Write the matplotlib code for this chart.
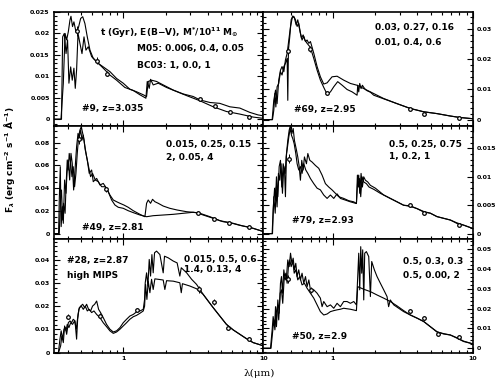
import matplotlib
matplotlib.use("Agg")
import matplotlib.pyplot as plt
from matplotlib.ticker import LogLocator, NullFormatter, FuncFormatter, MultipleLocator

plt.rcParams['font.family'] = 'DejaVu Sans'
plt.rcParams['font.weight'] = 'bold'

# ---- #9, z=3.035 ----
p9_lam_m05 = [0.32, 0.359, 0.373, 0.384, 0.394, 0.405, 0.416, 0.423, 0.434, 0.444, 0.459, 0.477, 0.496, 0.513,
              0.532, 0.553, 0.578, 0.610, 0.663, 0.719, 0.802, 0.895, 0.998, 1.113, 1.243, 1.387, 1.465, 1.505,
              1.590, 1.726, 1.925, 2.27, 2.67, 3.15, 3.52, 4.15, 4.88, 5.75, 6.78, 7.98, 9.15, 10.0]
p9_flux_m05 = [0, 0, 0.0084, 0.0200, 0.0185, 0.0204, 0.0231, 0.0240, 0.0216, 0.0227, 0.0204, 0.0212, 0.0235, 0.0239,
               0.0223, 0.0192, 0.0161, 0.0142, 0.0130, 0.0122, 0.0111, 0.0095, 0.0084, 0.0070, 0.0064, 0.0057, 0.0053,
               0.0088, 0.0091, 0.0088, 0.0080, 0.0068, 0.0059, 0.0053, 0.0045, 0.0039, 0.0037, 0.0029, 0.0026, 0.0016,
               0.0010, 0.0008]
p9_lam_bc03 = [0.32, 0.362, 0.369, 0.379, 0.390, 0.400, 0.409, 0.421, 0.432, 0.444, 0.454, 0.464, 0.475, 0.490,
               0.507, 0.524, 0.541, 0.562, 0.594, 0.645, 0.719, 0.802, 0.895, 1.026, 1.177, 1.313, 1.449, 1.481,
               1.530, 1.564, 1.633, 1.774, 2.034, 2.42, 2.83, 3.52, 4.38, 5.44, 6.78, 8.44, 10.0]
p9_flux_bc03 = [0, 0, 0.0192, 0.0200, 0.0153, 0.0185, 0.0084, 0.0122, 0.0091, 0.0119, 0.0072, 0.0115, 0.0200, 0.0177,
                0.0153, 0.0192, 0.0161, 0.0169, 0.0146, 0.0134, 0.0119, 0.0103, 0.0091, 0.0074, 0.0067, 0.0057,
                0.0049, 0.0088, 0.0072, 0.0093, 0.0080, 0.0084, 0.0074, 0.0064, 0.0055, 0.0043, 0.0029, 0.0018,
                0.0012, 0.0005, 0.0002]
p9_phot_lam = [0.47, 0.65, 0.77, 3.55, 4.49, 5.73, 7.87]
p9_phot_flux = [0.0205, 0.0136, 0.0106, 0.0046, 0.0031, 0.0018, 0.0006]
p9_phot_err = [0.0012, 0.0008, 0.0006, 0.0003, 0.0003, 0.0003, 0.0003]

# ---- #69, z=2.95 ----
p69_lam_m05 = [0.32, 0.369, 0.379, 0.390, 0.400, 0.411, 0.423, 0.434, 0.447, 0.459, 0.472, 0.485, 0.499, 0.513,
               0.527, 0.541, 0.556, 0.571, 0.587, 0.603, 0.620, 0.638, 0.655, 0.674, 0.692, 0.731, 0.772, 0.815,
               0.861, 0.910, 0.987, 1.072, 1.195, 1.334, 1.489, 1.661, 1.853, 2.306, 2.87, 3.57, 4.45, 5.53, 6.89,
               8.09, 10.0]
p69_flux_m05 = [0, 0, 0.0064, 0.0098, 0.0053, 0.0131, 0.0164, 0.0176, 0.0159, 0.0198, 0.0220, 0.0264, 0.0309, 0.0337,
                0.0342, 0.0331, 0.0309, 0.0320, 0.0287, 0.0264, 0.0276, 0.0259, 0.0264, 0.0253, 0.0259, 0.0220,
                0.0176, 0.0142, 0.0118, 0.0122, 0.0142, 0.0144, 0.0131, 0.0120, 0.0114, 0.0103, 0.0092, 0.0070,
                0.0053, 0.0037, 0.0026, 0.0020, 0.0012, 0.0007, 0.0003]
p69_lam_bc03 = [0.32, 0.371, 0.379, 0.386, 0.392, 0.400, 0.411, 0.423, 0.434, 0.447, 0.459, 0.472, 0.477, 0.482,
                0.493, 0.504, 0.518, 0.532, 0.547, 0.562, 0.580, 0.597, 0.614, 0.631, 0.655, 0.685, 0.700, 0.731,
                0.772, 0.815, 0.861, 0.910, 0.961, 1.015, 1.083, 1.166, 1.263, 1.373, 1.489, 1.505, 1.530, 1.555,
                1.590, 1.625, 1.661, 1.707, 1.754, 1.853, 1.957, 2.306, 2.87, 3.57, 4.45, 5.53, 6.89, 8.09, 10.0]
p69_flux_bc03 = [0, 0, 0.0031, 0.0087, 0.0042, 0.0109, 0.0120, 0.0159, 0.0148, 0.0176, 0.0187, 0.0203, 0.0064, 0.0231,
                 0.0276, 0.0331, 0.0344, 0.0337, 0.0314, 0.0331, 0.0298, 0.0270, 0.0281, 0.0264, 0.0253, 0.0242,
                 0.0231, 0.0203, 0.0164, 0.0131, 0.0107, 0.0084, 0.0092, 0.0109, 0.0126, 0.0114, 0.0100, 0.0092,
                 0.0081, 0.0114, 0.0092, 0.0120, 0.0103, 0.0114, 0.0107, 0.0100, 0.0096, 0.0091, 0.0081, 0.0069,
                 0.0053, 0.0037, 0.0026, 0.0020, 0.0012, 0.0007, 0.0003]
p69_phot_lam = [0.48, 0.69, 0.91, 3.57, 4.5, 7.95]
p69_phot_flux = [0.0229, 0.0233, 0.0087, 0.0034, 0.0020, 0.0007]
p69_phot_err = [0.0015, 0.0010, 0.0006, 0.0003, 0.0003, 0.0003]

# ---- #49, z=2.81 ----
p49_lam_m05 = [0.32, 0.349, 0.357, 0.362, 0.369, 0.375, 0.384, 0.390, 0.398, 0.405, 0.411, 0.421, 0.430, 0.439,
               0.449, 0.459, 0.469, 0.480, 0.490, 0.501, 0.513, 0.524, 0.535, 0.553, 0.571, 0.594, 0.610, 0.645,
               0.681, 0.719, 0.759, 0.802, 0.848, 0.895, 0.946, 1.009, 1.083, 1.177, 1.313, 1.425, 1.465, 1.505,
               1.564, 1.616, 1.679, 1.774, 1.925, 2.145, 2.42, 2.83, 3.33, 3.71, 4.38, 5.15, 6.08, 7.16, 8.44, 10.0]
p49_flux_m05 = [0, 0, 0.0325, 0.0384, 0.0120, 0.0267, 0.0179, 0.0413, 0.0648, 0.0560, 0.0706, 0.0618, 0.0501, 0.0589,
                0.0413, 0.0530, 0.0706, 0.0853, 0.0911, 0.0941, 0.0882, 0.0823, 0.0736, 0.0648, 0.0530, 0.0560,
                0.0457, 0.0486, 0.0428, 0.0442, 0.0399, 0.0340, 0.0296, 0.0281, 0.0267, 0.0252, 0.0232, 0.0202,
                0.0170, 0.0149, 0.0267, 0.0296, 0.0267, 0.0302, 0.0281, 0.0267, 0.0243, 0.0223, 0.0208, 0.0193,
                0.0185, 0.0164, 0.0135, 0.0105, 0.0091, 0.0067, 0.0047, 0.0018]
p49_lam_bc03 = [0.32, 0.345, 0.349, 0.355, 0.360, 0.367, 0.373, 0.381, 0.390, 0.396, 0.405, 0.414, 0.423, 0.432,
                0.442, 0.452, 0.464, 0.475, 0.485, 0.496, 0.507, 0.518, 0.532, 0.547, 0.565, 0.584, 0.603, 0.631,
                0.663, 0.700, 0.739, 0.780, 0.825, 0.871, 0.920, 0.998, 1.083, 1.177, 1.313, 1.465, 1.633, 1.925,
                2.27, 2.67, 3.15, 3.52, 4.15, 4.88, 5.75, 6.78, 7.98, 10.0]
p49_flux_bc03 = [0, 0, 0.0296, 0.0589, 0.0062, 0.0237, 0.0091, 0.0472, 0.0355, 0.0530, 0.0648, 0.0472, 0.0706, 0.0618,
                 0.0384, 0.0560, 0.0765, 0.0882, 0.0853, 0.0911, 0.0823, 0.0867, 0.0765, 0.0677, 0.0589, 0.0501,
                 0.0530, 0.0472, 0.0457, 0.0413, 0.0413, 0.0369, 0.0296, 0.0252, 0.0232, 0.0223, 0.0202, 0.0185,
                 0.0164, 0.0149, 0.0158, 0.0164, 0.0170, 0.0179, 0.0188, 0.0179, 0.0149, 0.0114, 0.0097, 0.0073,
                 0.0056, 0.0018]
p49_phot_lam = [0.48, 0.75, 3.4, 4.45, 5.7, 7.9]
p49_phot_flux = [0.083, 0.039, 0.0185, 0.0133, 0.0098, 0.0062]
p49_phot_err = [0.004, 0.002, 0.001, 0.001, 0.001, 0.001]

# ---- #79, z=2.93 ----
p79_lam_m05 = [0.32, 0.369, 0.375, 0.384, 0.390, 0.396, 0.405, 0.414, 0.423, 0.432, 0.442, 0.452, 0.459, 0.467,
               0.477, 0.488, 0.499, 0.510, 0.521, 0.532, 0.550, 0.562, 0.574, 0.587, 0.600, 0.614, 0.627, 0.648,
               0.663, 0.685, 0.711, 0.751, 0.793, 0.838, 0.885, 0.935, 0.987, 1.043, 1.101, 1.195, 1.298, 1.410,
               1.473, 1.505, 1.530, 1.555, 1.590, 1.625, 1.661, 1.707, 1.774, 1.853, 2.011, 2.306, 2.57, 2.87,
               3.20, 3.57, 3.99, 4.45, 4.96, 5.53, 6.17, 6.89, 7.68, 8.57, 10.0]
p79_flux_m05 = [0, 0, 0.0042, 0.0080, 0.0059, 0.0100, 0.0065, 0.0118, 0.0129, 0.0082, 0.0123, 0.0112, 0.0065, 0.0141,
                0.0164, 0.0182, 0.0191, 0.0176, 0.0185, 0.0164, 0.0147, 0.0135, 0.0120, 0.0094, 0.0129, 0.0112,
                0.0135, 0.0123, 0.0141, 0.0129, 0.0126, 0.0120, 0.0115, 0.0103, 0.0088, 0.0082, 0.0077, 0.0071,
                0.0065, 0.0062, 0.0058, 0.0056, 0.0053, 0.0094, 0.0103, 0.0071, 0.0106, 0.0082, 0.0100, 0.0094,
                0.0091, 0.0085, 0.0080, 0.0068, 0.0062, 0.0056, 0.0050, 0.0049, 0.0044, 0.0039, 0.0036, 0.0030,
                0.0027, 0.0024, 0.0018, 0.0015, 0.0009]
p79_lam_bc03 = [0.32, 0.371, 0.379, 0.388, 0.394, 0.400, 0.409, 0.418, 0.427, 0.437, 0.447, 0.457, 0.464, 0.475,
                0.485, 0.496, 0.507, 0.518, 0.530, 0.544, 0.556, 0.571, 0.587, 0.603, 0.620, 0.641, 0.663, 0.692,
                0.731, 0.772, 0.815, 0.861, 0.910, 0.961, 1.015, 1.072, 1.132, 1.230, 1.334, 1.473, 1.497, 1.521,
                1.547, 1.581, 1.616, 1.661, 1.735, 1.813, 1.957, 2.18, 2.57, 2.87, 3.20, 3.57, 3.99, 4.45, 4.96,
                5.53, 6.17, 6.89, 7.68, 8.57, 10.0]
p79_flux_bc03 = [0, 0, 0.0065, 0.0036, 0.0082, 0.0047, 0.0106, 0.0094, 0.0123, 0.0071, 0.0118, 0.0106, 0.0135, 0.0153,
                 0.0170, 0.0185, 0.0173, 0.0167, 0.0158, 0.0141, 0.0123, 0.0112, 0.0118, 0.0106, 0.0123, 0.0112,
                 0.0106, 0.0097, 0.0088, 0.0080, 0.0077, 0.0068, 0.0062, 0.0068, 0.0062, 0.0070, 0.0062, 0.0059,
                 0.0056, 0.0053, 0.0103, 0.0082, 0.0097, 0.0065, 0.0100, 0.0091, 0.0088, 0.0082, 0.0078, 0.0071,
                 0.0062, 0.0056, 0.0050, 0.0048, 0.0044, 0.0038, 0.0036, 0.0030, 0.0027, 0.0024, 0.0019, 0.0015,
                 0.0009]
p79_phot_lam = [0.49, 3.57, 4.5, 8.0]
p79_phot_flux = [0.0132, 0.0050, 0.0036, 0.0016]
p79_phot_err = [0.0008, 0.0003, 0.0003, 0.0003]

# ---- #28, z=2.87 ----
p28_lam_m05 = [0.32, 0.344, 0.353, 0.360, 0.369, 0.377, 0.386, 0.394, 0.405, 0.416, 0.427, 0.439, 0.452, 0.464,
               0.472, 0.482, 0.496, 0.513, 0.530, 0.547, 0.565, 0.584, 0.603, 0.624, 0.645, 0.666, 0.688, 0.719,
               0.759, 0.802, 0.848, 0.895, 0.946, 0.998, 1.054, 1.113, 1.177, 1.243, 1.313, 1.387, 1.418, 1.433,
               1.465, 1.497, 1.530, 1.564, 1.599, 1.633, 1.670, 1.726, 1.823, 1.925, 1.967, 2.09, 2.27, 2.42,
               2.53, 2.59, 2.83, 3.07, 3.33, 3.52, 3.71, 4.03, 4.38, 4.88, 5.44, 6.08, 6.78, 7.56, 8.44, 10.0]
p28_flux_m05 = [0, 0, 0.0058, 0.0094, 0.0058, 0.0101, 0.0108, 0.0079, 0.0129, 0.0137, 0.0129, 0.0144, 0.0137, 0.0058,
                0.0144, 0.0187, 0.0201, 0.0209, 0.0194, 0.0209, 0.0187, 0.0180, 0.0201, 0.0209, 0.0223, 0.0187,
                0.0173, 0.0151, 0.0122, 0.0101, 0.0089, 0.0094, 0.0108, 0.0129, 0.0144, 0.0158, 0.0165, 0.0176,
                0.0180, 0.0187, 0.0230, 0.0302, 0.0345, 0.0288, 0.0403, 0.0331, 0.0424, 0.0345, 0.0432, 0.0439,
                0.0424, 0.0345, 0.0417, 0.0410, 0.0396, 0.0388, 0.0331, 0.0367, 0.0345, 0.0317, 0.0295, 0.0273,
                0.0252, 0.0223, 0.0194, 0.0158, 0.0122, 0.0098, 0.0079, 0.0060, 0.0043, 0.0029]
p28_lam_bc03 = [0.32, 0.345, 0.357, 0.364, 0.373, 0.381, 0.390, 0.398, 0.409, 0.421, 0.434, 0.449, 0.462, 0.475,
                0.485, 0.501, 0.518, 0.535, 0.553, 0.571, 0.594, 0.617, 0.645, 0.681, 0.719, 0.759, 0.802, 0.848,
                0.895, 0.946, 0.998, 1.054, 1.113, 1.177, 1.243, 1.313, 1.387, 1.418, 1.441, 1.473, 1.505, 1.547,
                1.590, 1.633, 1.679, 1.774, 1.925, 1.978, 2.034, 2.27, 2.53, 2.59, 2.64, 2.98, 3.33, 3.71, 4.03,
                4.38, 4.88, 5.44, 6.08, 6.78, 7.56, 8.44, 10.0]
p28_flux_bc03 = [0, 0, 0.0029, 0.0072, 0.0043, 0.0115, 0.0094, 0.0122, 0.0108, 0.0129, 0.0122, 0.0137, 0.0101, 0.0165,
                 0.0194, 0.0201, 0.0187, 0.0201, 0.0180, 0.0187, 0.0173, 0.0180, 0.0165, 0.0151, 0.0129, 0.0112,
                 0.0094, 0.0083, 0.0089, 0.0101, 0.0115, 0.0129, 0.0144, 0.0155, 0.0161, 0.0170, 0.0180, 0.0201,
                 0.0295, 0.0230, 0.0309, 0.0259, 0.0317, 0.0273, 0.0319, 0.0317, 0.0314, 0.0273, 0.0311, 0.0309,
                 0.0302, 0.0259, 0.0298, 0.0288, 0.0276, 0.0252, 0.0223, 0.0194, 0.0158, 0.0122, 0.0098, 0.0079,
                 0.0060, 0.0043, 0.0029]
p28_phot_lam = [0.405, 0.68, 1.26, 3.45, 4.45, 5.6, 7.9]
p28_phot_flux = [0.0155, 0.0160, 0.0184, 0.0273, 0.0219, 0.0106, 0.0060]
p28_phot_err = [0.001, 0.001, 0.001, 0.0015, 0.0012, 0.0008, 0.0006]

# ---- #50, z=2.9 ----
p50_lam_m05 = [0.32, 0.359, 0.369, 0.375, 0.384, 0.390, 0.396, 0.405, 0.414, 0.423, 0.430, 0.437, 0.447, 0.457,
               0.467, 0.477, 0.488, 0.499, 0.510, 0.521, 0.532, 0.544, 0.556, 0.571, 0.587, 0.603, 0.620, 0.638,
               0.655, 0.674, 0.692, 0.731, 0.772, 0.815, 0.838, 0.861, 0.910, 0.961, 1.015, 1.072, 1.132, 1.195,
               1.263, 1.334, 1.410, 1.473, 1.505, 1.530, 1.555, 1.581, 1.607, 1.633, 1.661, 1.688, 1.735, 1.803,
               1.853, 1.894, 1.978, 2.067, 2.184, 2.306, 2.436, 2.50, 2.57, 2.72, 2.95, 3.20, 3.57, 3.99, 4.45,
               4.96, 5.53, 6.17, 6.89, 7.68, 8.57, 10.0]
p50_flux_m05 = [0, 0, 0.0093, 0.0160, 0.0109, 0.0210, 0.0109, 0.0244, 0.0177, 0.0328, 0.0362, 0.0278, 0.0396, 0.0345,
                0.0362, 0.0446, 0.0412, 0.0480, 0.0429, 0.0455, 0.0396, 0.0429, 0.0362, 0.0396, 0.0345, 0.0379,
                0.0328, 0.0362, 0.0311, 0.0345, 0.0295, 0.0295, 0.0278, 0.0253, 0.0210, 0.0236, 0.0210, 0.0219,
                0.0202, 0.0227, 0.0210, 0.0236, 0.0236, 0.0227, 0.0236, 0.0219, 0.0362, 0.0480, 0.0295, 0.0513,
                0.0379, 0.0497, 0.0244, 0.0480, 0.0488, 0.0463, 0.0261, 0.0438, 0.0396, 0.0362, 0.0328, 0.0295,
                0.0261, 0.0210, 0.0244, 0.0219, 0.0202, 0.0185, 0.0168, 0.0152, 0.0135, 0.0109, 0.0084, 0.0072,
                0.0067, 0.0051, 0.0034, 0.0022]
p50_lam_bc03 = [0.32, 0.362, 0.371, 0.379, 0.386, 0.394, 0.402, 0.411, 0.421, 0.430, 0.439, 0.449, 0.462, 0.472,
                0.482, 0.493, 0.504, 0.518, 0.530, 0.544, 0.562, 0.580, 0.603, 0.627, 0.655, 0.692, 0.731, 0.772,
                0.815, 0.861, 0.910, 0.961, 1.015, 1.072, 1.132, 1.195, 1.334, 1.473, 1.505, 1.661, 1.853, 2.067,
                2.306, 2.57, 2.87, 3.20, 3.57, 3.99, 4.45, 4.96, 5.53, 6.17, 6.89, 7.68, 8.57, 10.0]
p50_flux_bc03 = [0, 0, 0.0076, 0.0143, 0.0093, 0.0177, 0.0210, 0.0143, 0.0278, 0.0295, 0.0227, 0.0345, 0.0379, 0.0328,
                 0.0412, 0.0446, 0.0412, 0.0438, 0.0379, 0.0396, 0.0345, 0.0362, 0.0320, 0.0328, 0.0303, 0.0278,
                 0.0253, 0.0219, 0.0185, 0.0168, 0.0173, 0.0185, 0.0190, 0.0194, 0.0197, 0.0202, 0.0197, 0.0190,
                 0.0311, 0.0298, 0.0286, 0.0269, 0.0253, 0.0236, 0.0214, 0.0190, 0.0168, 0.0152, 0.0135, 0.0109,
                 0.0082, 0.0074, 0.0067, 0.0053, 0.0036, 0.0022]
p50_phot_lam = [0.48, 0.70, 3.57, 4.5, 5.6, 8.0]
p50_phot_flux = [0.0348, 0.0295, 0.0190, 0.0155, 0.0072, 0.0059]
p50_phot_err = [0.002, 0.0015, 0.001, 0.001, 0.0008, 0.0008]

# panel labels
p9_text = ["t (Gyr), E(B$-$V), M$^{*}$/10$^{11}$ M$_{\\odot}$", "M05: 0.006, 0.4, 0.05", "BC03: 1, 0.0, 1"]
p69_text = ["0.03, 0.27, 0.16", "0.01, 0.4, 0.6"]
p49_text = ["0.015, 0.25, 0.15", "2, 0.05, 4"]
p79_text = ["0.5, 0.25, 0.75", "1, 0.2, 1"]
p28_text = ["0.015, 0.5, 0.6", "1.4, 0.13, 4"]
p50_text = ["0.5, 0.3, 0.3", "0.5, 0.00, 2"]

fig = plt.figure(figsize=(4.98, 3.83), dpi=100)

x_left = [0.1084, 0.5291]
y_bot = [0.6719, 0.3751, 0.0783]
w, h = 0.4207, 0.2968

panels = [
    (0, 0, p9_lam_m05, p9_flux_m05, p9_lam_bc03, p9_flux_bc03, p9_phot_lam, p9_phot_flux, p9_phot_err,
     (-0.0015, 0.025), 0.005, 5),
    (0, 1, p69_lam_m05, p69_flux_m05, p69_lam_bc03, p69_flux_bc03, p69_phot_lam, p69_phot_flux, p69_phot_err,
     (-0.002, 0.0357), 0.01, 5),
    (1, 0, p49_lam_m05, p49_flux_m05, p49_lam_bc03, p49_flux_bc03, p49_phot_lam, p49_phot_flux, p49_phot_err,
     (-0.005, 0.095), 0.02, 4),
    (1, 1, p79_lam_m05, p79_flux_m05, p79_lam_bc03, p79_flux_bc03, p79_phot_lam, p79_phot_flux, p79_phot_err,
     (-0.001, 0.019), 0.005, 5),
    (2, 0, p28_lam_m05, p28_flux_m05, p28_lam_bc03, p28_flux_bc03, p28_phot_lam, p28_phot_flux, p28_phot_err,
     (-0.0002, 0.049), 0.01, 5),
    (2, 1, p50_lam_m05, p50_flux_m05, p50_lam_bc03, p50_flux_bc03, p50_phot_lam, p50_phot_flux, p50_phot_err,
     (-0.0024, 0.055), 0.01, 5),
]

axes = {}
for row, col, lm, fm, lb, fb, pl, pf, pe, ylim, major, nminor in panels:
    ax = fig.add_axes([x_left[col], y_bot[row], w, h])
    axes[(row, col)] = ax
    ax.plot(lm, fm, color='k', lw=0.8)
    ax.plot(lb, fb, color='k', lw=0.8)
    ax.errorbar(pl, pf, yerr=pe, fmt='o', ms=2.6, mfc='white', mec='k', mew=0.9,
                ecolor='k', elinewidth=0.7, capsize=0, zorder=5)
    ax.set_xscale('log')
    ax.set_xlim(0.32, 10)
    ax.set_ylim(*ylim)
    ax.xaxis.set_major_locator(LogLocator(base=10))
    ax.xaxis.set_minor_locator(LogLocator(base=10, subs=range(2, 10)))
    ax.xaxis.set_major_formatter(FuncFormatter(lambda v, p: '%g' % v))
    ax.xaxis.set_minor_formatter(NullFormatter())
    ax.yaxis.set_major_locator(MultipleLocator(major))
    ax.yaxis.set_minor_locator(MultipleLocator(major / nminor))
    ax.yaxis.set_major_formatter(FuncFormatter(lambda v, p: '0' if abs(v) < 1e-9 else ('%g' % v)))
    ax.tick_params(which='both', direction='in', top=True, right=True, width=0.8,
                   labelsize=4.5, pad=3)
    ax.tick_params(which='major', length=4)
    ax.tick_params(which='minor', length=2)
    ax.tick_params(axis='x', pad=2, labelbottom=(row == 2))
    if col == 1:
        ax.tick_params(axis='y', labelleft=False, labelright=True)
    for s in ax.spines.values():
        s.set_linewidth(1.2)

tk = dict(fontsize=6.5, fontweight='bold', va='center', ha='left')
ax = axes[(0, 0)]
ax.text(0.22, 0.815, p9_text[0], transform=ax.transAxes, **tk)
ax.text(0.396, 0.68, p9_text[1], transform=ax.transAxes, **tk)
ax.text(0.396, 0.528, p9_text[2], transform=ax.transAxes, **tk)
ax.text(0.132, 0.153, "#9, z=3.035", transform=ax.transAxes, **tk)

ax = axes[(0, 1)]
ax.text(0.532, 0.865, p69_text[0], transform=ax.transAxes, **tk)
ax.text(0.532, 0.73, p69_text[1], transform=ax.transAxes, **tk)
ax.text(0.146, 0.138, "#69, z=2.95", transform=ax.transAxes, **tk)

ax = axes[(1, 0)]
ax.text(0.533, 0.83, p49_text[0], transform=ax.transAxes, **tk)
ax.text(0.533, 0.722, p49_text[1], transform=ax.transAxes, **tk)
ax.text(0.132, 0.106, "#49, z=2.81", transform=ax.transAxes, **tk)

ax = axes[(1, 1)]
ax.text(0.60, 0.83, p79_text[0], transform=ax.transAxes, **tk)
ax.text(0.60, 0.73, p79_text[1], transform=ax.transAxes, **tk)
ax.text(0.135, 0.17, "#79, z=2.93", transform=ax.transAxes, **tk)

ax = axes[(2, 0)]
ax.text(0.06, 0.818, "#28, z=2.87", transform=ax.transAxes, **tk)
ax.text(0.06, 0.686, "high MIPS", transform=ax.transAxes, **tk)
ax.text(0.622, 0.82, p28_text[0], transform=ax.transAxes, **tk)
ax.text(0.622, 0.736, p28_text[1], transform=ax.transAxes, **tk)

ax = axes[(2, 1)]
ax.text(0.664, 0.803, p50_text[0], transform=ax.transAxes, **tk)
ax.text(0.664, 0.686, p50_text[1], transform=ax.transAxes, **tk)
ax.text(0.135, 0.143, "#50, z=2.9", transform=ax.transAxes, **tk)

fig.text(0.02, 0.582, "F$_\\lambda$ (erg cm$^{-2}$ s$^{-1}$ Å$^{-1}$)", rotation=90,
         fontsize=6.5, fontweight='bold', ha='center', va='center')
fig.text(0.521, 0.026, "λ(μm)", fontsize=7.5, family='DejaVu Serif', fontweight='normal',
         ha='center', va='center')

fig.savefig('out.png', dpi=100)
